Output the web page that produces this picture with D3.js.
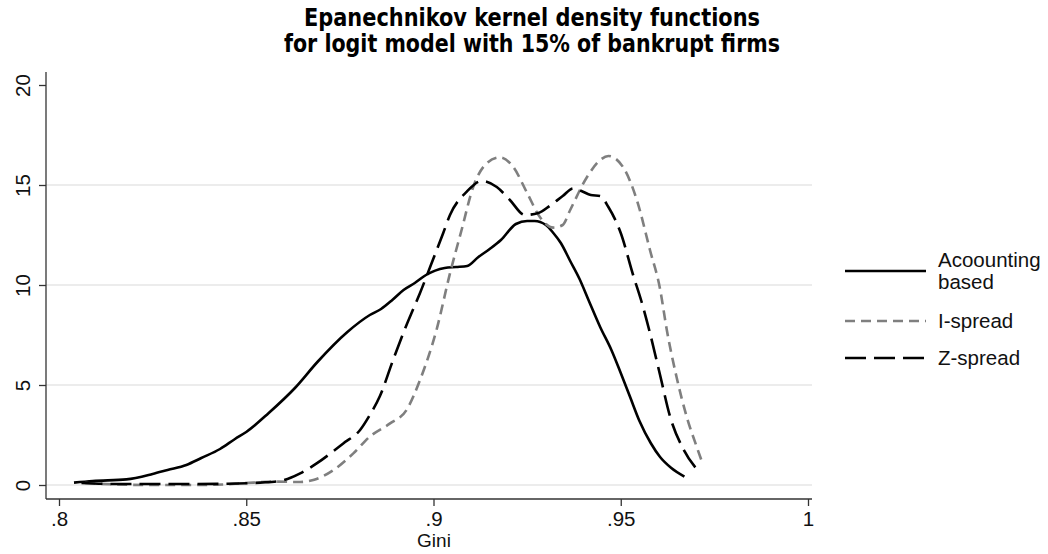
<!DOCTYPE html>
<html>
<head>
<meta charset="utf-8">
<script src="https://cdn.jsdelivr.net/npm/d3@7"></script>
<style>
  body { margin: 0; background: #fff; }
  svg { display: block; }
</style>
</head>
<body>
<svg id="chart"></svg>
<script>
// data
const accGini = [0.804, 0.809, 0.818, 0.825, 0.829, 0.834, 0.838, 0.843, 0.847, 0.850, 0.856, 0.863, 0.869, 0.877, 0.883, 0.886, 0.889, 0.892, 0.895, 0.898, 0.903, 0.906, 0.909, 0.912, 0.915, 0.918, 0.922, 0.925, 0.927, 0.930, 0.932, 0.934, 0.9365, 0.939, 0.9415, 0.9445, 0.9475, 0.950, 0.9525, 0.955, 0.958, 0.9605, 0.9635, 0.967];
const accDens = [0.12, 0.2, 0.28, 0.55, 0.75, 1.0, 1.35, 1.8, 2.3, 2.65, 3.6, 4.85, 6.15, 7.65, 8.5, 8.8, 9.25, 9.75, 10.1, 10.5, 10.85, 10.9, 10.95, 11.4, 11.8, 12.25, 13.05, 13.2, 13.2, 13.0, 12.6, 12.1, 11.2, 10.3, 9.2, 7.9, 6.75, 5.6, 4.4, 3.2, 2.1, 1.4, 0.85, 0.42];

const iGini = [0.807, 0.815, 0.825, 0.835, 0.845, 0.8483, 0.8528, 0.8572, 0.8644, 0.8679, 0.8733, 0.8786, 0.883, 0.8884, 0.8928, 0.8964, 0.9008, 0.9044, 0.9075, 0.9106, 0.9143, 0.9178, 0.9213, 0.925, 0.9284, 0.932, 0.9345, 0.9365, 0.941, 0.9445, 0.9467, 0.9506, 0.9543, 0.9578, 0.9605, 0.9623, 0.9649, 0.9676, 0.9703, 0.972];
const iDens = [0.1, 0.03, 0.0, 0.0, 0.03, 0.08, 0.13, 0.17, 0.15, 0.25, 0.75, 1.58, 2.42, 3.08, 3.75, 5.25, 7.75, 10.58, 12.75, 14.9, 16.1, 16.38, 15.9, 14.6, 13.4, 12.87, 13.0, 13.75, 15.4, 16.25, 16.45, 15.9, 14.25, 11.75, 9.8, 7.75, 5.4, 3.42, 1.9, 1.0];

const zGini = [0.806, 0.815, 0.830, 0.845, 0.8537, 0.859, 0.8644, 0.8688, 0.8759, 0.8804, 0.883, 0.8857, 0.8893, 0.8928, 0.8946, 0.8964, 0.8991, 0.9026, 0.9044, 0.9089, 0.9129, 0.9169, 0.9204, 0.9244, 0.928, 0.931, 0.9345, 0.9373, 0.9395, 0.942, 0.9445, 0.9467, 0.950, 0.9533, 0.9555, 0.9578, 0.9605, 0.9632, 0.9667, 0.9707];
const zDens = [0.1, 0.05, 0.05, 0.06, 0.12, 0.2, 0.58, 1.08, 2.08, 2.75, 3.5, 4.45, 6.3, 8.0, 8.8, 9.6, 10.9, 12.6, 13.5, 14.67, 15.2, 14.9, 14.25, 13.5, 13.6, 13.95, 14.45, 14.83, 14.7, 14.5, 14.45, 13.9, 12.6, 10.5, 9.2, 7.6, 5.5, 3.4, 1.8, 0.7];

const xTicks = [0.8, 0.85, 0.9, 0.95, 1];
const xTickLabels = [".8", ".85", ".9", ".95", "1"];
const yTicks = [0, 5, 10, 15, 20];
const gridValues = [0, 5, 10, 15];

const titleLines = ["Epanechnikov kernel density functions", "for logit model with 15% of bankrupt firms"];
const xTitle = "Gini";
const legendNames = [["Acoounting", "based"], ["I-spread"], ["Z-spread"]];

const width = 1048;
const height = 554;

const svg = d3.select("svg#chart")
  .attr("width", width)
  .attr("height", height)
  .style("font-family", "'Liberation Sans', Arial, Helvetica, sans-serif");

// plot region (Stata style, axes sit a bit outside the data range)
const region = { left: 46, right: 812, top: 72, bottom: 499 };

const xScale = d3.scaleLinear().domain([0.8, 1]).range([59, 808]);
const yScale = d3.scaleLinear().domain([0, 20]).range([485, 85]);

// gridlines
svg.append("g")
  .selectAll("line")
  .data(gridValues)
  .enter()
  .append("line")
  .attr("x1", region.left)
  .attr("x2", region.right)
  .attr("y1", d => yScale(d))
  .attr("y2", d => yScale(d))
  .style("stroke", "#e6e6e6")
  .style("stroke-width", 1.5);

// axes
const xAxis = d3.axisBottom(xScale)
  .tickValues(xTicks)
  .tickFormat((d, i) => xTickLabels[i])
  .tickSize(7)
  .tickPadding(5);

const gx = svg.append("g")
  .attr("transform", "translate(0," + region.bottom + ")")
  .call(xAxis);
gx.select(".domain").remove();
gx.selectAll("line").style("stroke", "#333").style("stroke-width", 1.3);
gx.selectAll("text")
  .style("font-size", "20.5px")
  .style("fill", "#111")
  .style("font-family", "'Liberation Sans', Arial, sans-serif");

const yAxis = d3.axisLeft(yScale)
  .tickValues(yTicks)
  .tickSize(7)
  .tickPadding(0);

const gy = svg.append("g")
  .attr("transform", "translate(" + region.left + ",0)")
  .call(yAxis);
gy.select(".domain").remove();
gy.selectAll("line").style("stroke", "#333").style("stroke-width", 1.3);
gy.selectAll("text")
  .attr("x", null)
  .attr("dy", null)
  .attr("transform", "translate(-16,0) rotate(-90)")
  .attr("text-anchor", "middle")
  .attr("y", 0)
  .style("font-size", "20.5px")
  .style("fill", "#111")
  .style("font-family", "'Liberation Sans', Arial, sans-serif");

// axis lines
svg.append("line")
  .attr("x1", region.left).attr("x2", region.left)
  .attr("y1", region.top).attr("y2", region.bottom)
  .style("stroke", "#333").style("stroke-width", 1.3);
svg.append("line")
  .attr("x1", region.left).attr("x2", region.right)
  .attr("y1", region.bottom).attr("y2", region.bottom)
  .style("stroke", "#333").style("stroke-width", 1.3);

// axis title
svg.append("text")
  .attr("x", 434)
  .attr("y", 547)
  .attr("text-anchor", "middle")
  .style("font-size", "19px")
  .style("fill", "#111")
  .text(xTitle);

// curves
const line = d3.line()
  .x(d => xScale(d[0]))
  .y(d => yScale(d[1]))
  .curve(d3.curveMonotoneX);

const series = [
  { pts: d3.zip(accGini, accDens), color: "#000", dash: null },
  { pts: d3.zip(iGini, iDens), color: "#7f7f7f", dash: "10,6" },
  { pts: d3.zip(zGini, zDens), color: "#000", dash: "21,8" }
];

svg.append("g")
  .selectAll("path")
  .data(series)
  .enter()
  .append("path")
  .attr("d", d => line(d.pts))
  .style("fill", "none")
  .style("stroke", d => d.color)
  .style("stroke-width", 2.6)
  .style("stroke-dasharray", d => d.dash)
  .style("stroke-linejoin", "round");

// legend
const legendY = [271, 321, 358];
const legend = svg.append("g");
series.forEach((s, i) => {
  legend.append("line")
    .attr("x1", 845).attr("x2", 926)
    .attr("y1", legendY[i]).attr("y2", legendY[i])
    .style("stroke", s.color)
    .style("stroke-width", 2.6)
    .style("stroke-dasharray", s.dash);
  const names = legendNames[i];
  const t = legend.append("text")
    .attr("x", 938)
    .style("font-size", "20.5px")
    .style("fill", "#111");
  if (names.length === 2) {
    t.append("tspan").attr("x", 938).attr("y", 267).text(names[0]);
    t.append("tspan").attr("x", 938).attr("y", 289).text(names[1]);
  } else {
    t.attr("y", legendY[i] + 7).text(names[0]);
  }
});

// title
svg.append("g")
  .selectAll("text")
  .data(titleLines)
  .enter()
  .append("text")
  .attr("x", 532)
  .attr("y", (d, i) => 26 + i * 26)
  .attr("text-anchor", "middle")
  .attr("textLength", (d, i) => (i === 0 ? 456 : 496))
  .attr("lengthAdjust", "spacingAndGlyphs")
  .style("font-size", "24px")
  .style("font-weight", "bold")
  .style("font-family", "'Liberation Sans Narrow', 'DejaVu Sans Condensed', Roboto, sans-serif")
  .style("fill", "#000")
  .text(d => d);
</script>
</body>
</html>
